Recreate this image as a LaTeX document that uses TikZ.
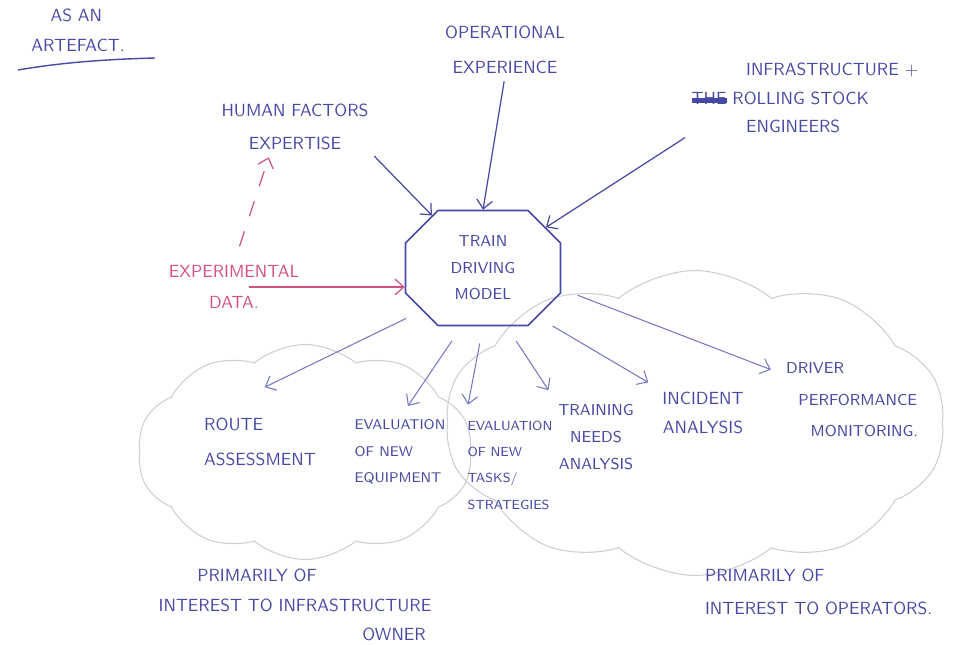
\documentclass[tikz,border=0pt]{standalone}
\usepackage{tikz}
\usetikzlibrary{arrows.meta,shapes.misc,shapes.symbols}
\definecolor{penblue}{RGB}{72,72,165}
\definecolor{fadeblue}{RGB}{120,120,195}
\definecolor{penred}{RGB}{212,80,130}
\definecolor{cloudgrey}{RGB}{205,205,212}
\newcommand{\struck}[1]{\begingroup\setbox0\hbox{#1}\rlap{\rule[0.1ex]{\wd0}{0.7ex}}\box0\endgroup}
\tikzset{
  >={Straight Barb[length=5pt,width=9pt]},
  hand/.style 2 args={text=penblue, align=center, inner sep=1pt,
    font=\sffamily\fontsize{#1}{#2}\selectfont},
  pen/.style={draw=penblue, line width=0.8pt},
  inarrow/.style={->, draw=penblue, line width=0.7pt, shorten <=3pt},
  outarrow/.style={->, draw=fadeblue, line width=0.6pt, shorten <=10pt, shorten >=8pt},
  redarrow/.style={->, draw=penred, line width=0.7pt},
  puff/.style={cloud, cloud puffs=10, cloud puff arc=80, cloud ignores aspect,
    draw=cloudgrey, line width=0.6pt},
}
\begin{document}
\begin{tikzpicture}[x=0.02cm, y=-0.02cm]
  \useasboundingbox (0,0) rectangle (964,645);
  % the two clouds behind the uses
  \node[puff, minimum width=6.7cm, minimum height=4.3cm] (cloudL) at (305,452) {};
  \node[puff, minimum width=10.0cm, minimum height=6.1cm] (cloudR) at (695,423) {};

  \node[hand={10}{17}, align=left] (artefact) at (78,30) {\hspace{11pt}AS AN\\ARTEFACT.};
  \draw[pen] (18,70) .. controls (70,61) and (120,59) .. (155,58);

  \node[hand={10}{20}] (opexp) at (505,50) {OPERATIONAL\\EXPERIENCE};
  \node[hand={10}{16}, align=left] (infra) at (805,98)
    {\hspace{31pt}INFRASTRUCTURE +\\\struck{THE} ROLLING STOCK\\\hspace{31pt}ENGINEERS};
  \node[hand={10}{19}] (hf) at (295,127) {HUMAN FACTORS\\EXPERTISE};
  \node[hand={10}{18}, text=penred] (expdata) at (234,287) {EXPERIMENTAL\\DATA.};

  \node[chamfered rectangle, chamfered rectangle xsep=0.55cm, pen, line width=0.9pt,
    minimum width=3.1cm, minimum height=2.3cm, hand={9}{15}] (model) at (483,268)
    {TRAIN\\DRIVING\\MODEL};

  \node[hand={10}{20}, align=left] (route) at (260,442) {ROUTE\\ASSESSMENT};
  \node[hand={8}{15}, align=left] (evequip) at (400,452) {EVALUATION\\OF NEW\\EQUIPMENT};
  \node[hand={7.5}{15}, align=left] (evtasks) at (510,465) {EVALUATION\\OF NEW\\TASKS/\\STRATEGIES};
  \node[hand={9}{15.5}] (training) at (596,437) {TRAINING\\NEEDS\\ANALYSIS};
  \node[hand={10}{17}] (incident) at (703,413) {INCIDENT\\ANALYSIS};
  \node[hand={9}{18}, align=left] (dpm) at (852,400)
    {DRIVER\\\hspace{7pt}PERFORMANCE\\\hspace{14pt}MONITORING.};

  \node[hand={10}{17}, align=left] (prinfra) at (295,605)
    {\hspace{22pt}PRIMARILY OF\\INTEREST TO INFRASTRUCTURE\\\hspace{116pt}OWNER};
  \node[hand={10}{19}, align=left, anchor=west] (propr) at (703,592)
    {PRIMARILY OF\\INTEREST TO OPERATORS.};

  % sources feeding the model
  \draw[inarrow] (hf.south east) -- (model);
  \draw[inarrow] (opexp.south) -- (model.north);
  \draw[inarrow] (infra.south west) -- (model);
  \draw[redarrow] ([xshift=-30pt]expdata.east) -- (expdata.east -| model.west);
  \draw[redarrow, dash pattern=on 9pt off 9pt, shorten <=10pt, shorten >=3pt]
    (expdata.north) -- ([xshift=-14pt]hf.south);

  % uses of the model
  \draw[outarrow, shorten >=3pt] (model.215) -- ([yshift=15pt]route.north);
  \draw[outarrow] (model.250) -- (evequip.north);
  \draw[outarrow] (model.270) -- (evtasks.north west);
  \draw[outarrow] (model.292) -- (training.north west);
  \draw[outarrow] (model.318) -- (incident.north west);
  \draw[outarrow] (model.345) -- ([yshift=-8pt]dpm.north west);
\end{tikzpicture}
\end{document}
